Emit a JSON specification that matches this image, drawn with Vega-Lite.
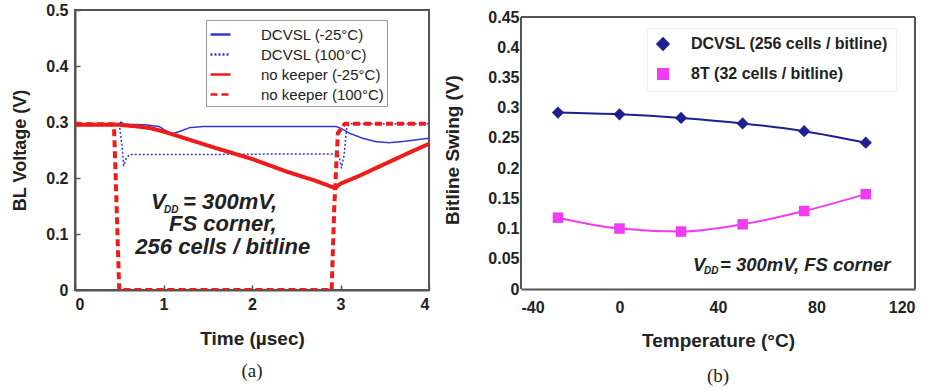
{
  "$schema": "https://vega.github.io/schema/vega-lite/v6.json",
  "background": "white",
  "padding": {"left": 10, "top": 1, "right": 4, "bottom": 4},
  "spacing": 12,
  "resolve": {
    "scale": {"color": "independent", "strokeDash": "independent", "shape": "independent", "size": "independent"},
    "legend": {"color": "independent", "strokeDash": "independent", "shape": "independent", "size": "independent"}
  },
  "config": {
    "font": "Liberation Sans",
    "view": {"stroke": "#555", "strokeWidth": 2},
    "axis": {
      "grid": false,
      "labelFont": "Liberation Sans",
      "labelFontWeight": "bold",
      "labelFontSize": 16,
      "labelColor": "#222",
      "titleFont": "Liberation Sans",
      "titleFontWeight": "bold",
      "titleFontSize": 18,
      "titleColor": "#222",
      "domainColor": "#555",
      "domainWidth": 2,
      "tickColor": "#555",
      "tickWidth": 1.5
    },
    "title": {"font": "Liberation Serif", "fontWeight": "normal", "fontSize": 19, "color": "#222", "orient": "bottom", "anchor": "middle"}
  },
  "hconcat": [
    {
      "width": 354,
      "height": 280,
      "title": {"text": "(a)", "offset": 14},
      "data": {
        "values": [
          {"series": "DCVSL (-25°C)", "i": 1, "t": 0.0, "v": 0.296},
          {"series": "DCVSL (-25°C)", "i": 2, "t": 0.3, "v": 0.296},
          {"series": "DCVSL (-25°C)", "i": 3, "t": 0.5, "v": 0.297},
          {"series": "DCVSL (-25°C)", "i": 4, "t": 0.52, "v": 0.300},
          {"series": "DCVSL (-25°C)", "i": 5, "t": 0.55, "v": 0.296},
          {"series": "DCVSL (-25°C)", "i": 6, "t": 0.8, "v": 0.295},
          {"series": "DCVSL (-25°C)", "i": 7, "t": 0.95, "v": 0.292},
          {"series": "DCVSL (-25°C)", "i": 8, "t": 1.05, "v": 0.282},
          {"series": "DCVSL (-25°C)", "i": 9, "t": 1.1, "v": 0.279},
          {"series": "DCVSL (-25°C)", "i": 10, "t": 1.18, "v": 0.283},
          {"series": "DCVSL (-25°C)", "i": 11, "t": 1.3, "v": 0.29},
          {"series": "DCVSL (-25°C)", "i": 12, "t": 1.45, "v": 0.292},
          {"series": "DCVSL (-25°C)", "i": 13, "t": 2.0, "v": 0.292},
          {"series": "DCVSL (-25°C)", "i": 14, "t": 2.95, "v": 0.292},
          {"series": "DCVSL (-25°C)", "i": 15, "t": 3.0, "v": 0.289},
          {"series": "DCVSL (-25°C)", "i": 16, "t": 3.1, "v": 0.28},
          {"series": "DCVSL (-25°C)", "i": 17, "t": 3.25, "v": 0.271},
          {"series": "DCVSL (-25°C)", "i": 18, "t": 3.4, "v": 0.265},
          {"series": "DCVSL (-25°C)", "i": 19, "t": 3.55, "v": 0.263},
          {"series": "DCVSL (-25°C)", "i": 20, "t": 3.7, "v": 0.265},
          {"series": "DCVSL (-25°C)", "i": 21, "t": 3.85, "v": 0.268},
          {"series": "DCVSL (-25°C)", "i": 22, "t": 4.0, "v": 0.271},

          {"series": "DCVSL (100°C)", "i": 1, "t": 0.0, "v": 0.295},
          {"series": "DCVSL (100°C)", "i": 2, "t": 0.5, "v": 0.296},
          {"series": "DCVSL (100°C)", "i": 3, "t": 0.53, "v": 0.26},
          {"series": "DCVSL (100°C)", "i": 4, "t": 0.55, "v": 0.222},
          {"series": "DCVSL (100°C)", "i": 5, "t": 0.58, "v": 0.236},
          {"series": "DCVSL (100°C)", "i": 6, "t": 0.62, "v": 0.242},
          {"series": "DCVSL (100°C)", "i": 7, "t": 1.5, "v": 0.242},
          {"series": "DCVSL (100°C)", "i": 8, "t": 2.5, "v": 0.243},
          {"series": "DCVSL (100°C)", "i": 9, "t": 2.97, "v": 0.243},
          {"series": "DCVSL (100°C)", "i": 10, "t": 2.99, "v": 0.235},
          {"series": "DCVSL (100°C)", "i": 11, "t": 3.01, "v": 0.218},
          {"series": "DCVSL (100°C)", "i": 12, "t": 3.04, "v": 0.24},
          {"series": "DCVSL (100°C)", "i": 13, "t": 3.07, "v": 0.29},
          {"series": "DCVSL (100°C)", "i": 14, "t": 3.11, "v": 0.297},
          {"series": "DCVSL (100°C)", "i": 15, "t": 4.0, "v": 0.297},

          {"series": "no keeper (-25°C)", "i": 1, "t": 0.0, "v": 0.295},
          {"series": "no keeper (-25°C)", "i": 2, "t": 0.5, "v": 0.295},
          {"series": "no keeper (-25°C)", "i": 3, "t": 0.7, "v": 0.292},
          {"series": "no keeper (-25°C)", "i": 4, "t": 0.85, "v": 0.289},
          {"series": "no keeper (-25°C)", "i": 5, "t": 1.0, "v": 0.283},
          {"series": "no keeper (-25°C)", "i": 6, "t": 1.3, "v": 0.268},
          {"series": "no keeper (-25°C)", "i": 7, "t": 1.6, "v": 0.253},
          {"series": "no keeper (-25°C)", "i": 8, "t": 2.0, "v": 0.234},
          {"series": "no keeper (-25°C)", "i": 9, "t": 2.4, "v": 0.211},
          {"series": "no keeper (-25°C)", "i": 10, "t": 2.7, "v": 0.196},
          {"series": "no keeper (-25°C)", "i": 11, "t": 2.94, "v": 0.182},
          {"series": "no keeper (-25°C)", "i": 12, "t": 3.0, "v": 0.19},
          {"series": "no keeper (-25°C)", "i": 13, "t": 3.2, "v": 0.203},
          {"series": "no keeper (-25°C)", "i": 14, "t": 3.5, "v": 0.225},
          {"series": "no keeper (-25°C)", "i": 15, "t": 3.8, "v": 0.247},
          {"series": "no keeper (-25°C)", "i": 16, "t": 4.0, "v": 0.261},

          {"series": "no keeper (100°C)", "i": 1, "t": 0.0, "v": 0.296},
          {"series": "no keeper (100°C)", "i": 2, "t": 0.44, "v": 0.296},
          {"series": "no keeper (100°C)", "i": 3, "t": 0.46, "v": 0.2},
          {"series": "no keeper (100°C)", "i": 4, "t": 0.5, "v": 0.0},
          {"series": "no keeper (100°C)", "i": 5, "t": 2.9, "v": 0.0},
          {"series": "no keeper (100°C)", "i": 6, "t": 2.93, "v": 0.15},
          {"series": "no keeper (100°C)", "i": 7, "t": 2.97, "v": 0.28},
          {"series": "no keeper (100°C)", "i": 8, "t": 3.05, "v": 0.297},
          {"series": "no keeper (100°C)", "i": 9, "t": 4.0, "v": 0.297}
        ]
      },
      "encoding": {
        "x": {
          "field": "t", "type": "quantitative",
          "scale": {"domain": [0, 4], "nice": false},
          "axis": {"values": [0, 1, 2, 3, 4], "title": "Time (µsec)", "tickSize": -5, "labelPadding": 11, "titlePadding": 17, "titleFontSize": 19}
        },
        "y": {
          "field": "v", "type": "quantitative",
          "scale": {"domain": [0, 0.5], "nice": false},
          "axis": {"values": [0, 0.1, 0.2, 0.3, 0.4, 0.5], "labelExpr": "'' + datum.value", "title": "BL Voltage (V)", "tickSize": -5, "labelPadding": 12, "titlePadding": 16}
        }
      },
      "layer": [
        {
          "transform": [{"filter": "indexof(datum.series, 'DCVSL') === 0"}],
          "mark": {"type": "line", "strokeJoin": "round", "strokeWidth": 1.5, "clip": true},
          "encoding": {
            "order": {"field": "i", "type": "quantitative"},
            "color": {
              "field": "series", "type": "nominal",
              "scale": {
                "domain": ["DCVSL (-25°C)", "DCVSL (100°C)", "no keeper (-25°C)", "no keeper (100°C)"],
                "range": ["#3535d6", "#3535d6", "#ee1b1b", "#ee1b1b"]
              },
              "legend": {
                "orient": "none", "legendX": 131, "legendY": 10,
                "title": null,
                "symbolType": "stroke",
                "symbolSize": 400,
                "symbolStrokeWidth": 2.5,
                "labelFont": "Liberation Sans",
                "labelFontSize": 15,
                "labelFontWeight": "normal",
                "labelColor": "#222",
                "labelOffset": 29,
                "fillColor": "white",
                "strokeColor": "#999",
                "padding": 3,
                "rowPadding": -1
              }
            },
            "strokeDash": {
              "field": "series", "type": "nominal",
              "scale": {
                "domain": ["DCVSL (-25°C)", "DCVSL (100°C)", "no keeper (-25°C)", "no keeper (100°C)"],
                "range": [[1, 0], [2, 2], [1, 0], [7, 4]]
              }
            }
          }
        },
        {
          "transform": [{"filter": "indexof(datum.series, 'no keeper') === 0"}],
          "mark": {"type": "line", "strokeJoin": "round", "strokeWidth": 4, "clip": true},
          "encoding": {
            "order": {"field": "i", "type": "quantitative"},
            "color": {
              "field": "series", "type": "nominal",
              "scale": {
                "domain": ["DCVSL (-25°C)", "DCVSL (100°C)", "no keeper (-25°C)", "no keeper (100°C)"],
                "range": ["#3535d6", "#3535d6", "#ee1b1b", "#ee1b1b"]
              }
            },
            "strokeDash": {
              "field": "series", "type": "nominal",
              "scale": {
                "domain": ["DCVSL (-25°C)", "DCVSL (100°C)", "no keeper (-25°C)", "no keeper (100°C)"],
                "range": [[1, 0], [2, 2], [1, 0], [7, 4]]
              }
            }
          }
        },
        {
          "transform": [{"filter": "datum.series === 'DCVSL (-25°C)' && datum.i === 1"}],
          "mark": {"type": "text", "text": "V", "align": "left", "baseline": "alphabetic", "font": "Liberation Sans", "fontSize": 22, "fontWeight": "bold", "fontStyle": "italic", "color": "#222"},
          "encoding": {"x": {"datum": 0.86}, "y": {"datum": 0.1446}}
        },
        {
          "transform": [{"filter": "datum.series === 'DCVSL (-25°C)' && datum.i === 1"}],
          "mark": {"type": "text", "text": "DD", "align": "left", "baseline": "alphabetic", "dx": 13, "dy": 4, "font": "Liberation Sans", "fontSize": 10, "fontWeight": "bold", "fontStyle": "italic", "color": "#222"},
          "encoding": {"x": {"datum": 0.86}, "y": {"datum": 0.1446}}
        },
        {
          "transform": [{"filter": "datum.series === 'DCVSL (-25°C)' && datum.i === 1"}],
          "mark": {"type": "text", "text": "= 300mV,", "align": "left", "baseline": "alphabetic", "dx": 32, "font": "Liberation Sans", "fontSize": 22, "fontWeight": "bold", "fontStyle": "italic", "color": "#222"},
          "encoding": {"x": {"datum": 0.86}, "y": {"datum": 0.1446}}
        },
        {
          "transform": [{"filter": "datum.series === 'DCVSL (-25°C)' && datum.i === 1"}],
          "mark": {"type": "text", "text": "FS corner,", "align": "center", "baseline": "alphabetic", "font": "Liberation Sans", "fontSize": 22, "fontWeight": "bold", "fontStyle": "italic", "color": "#222"},
          "encoding": {"x": {"datum": 1.67}, "y": {"datum": 0.1054}}
        },
        {
          "transform": [{"filter": "datum.series === 'DCVSL (-25°C)' && datum.i === 1"}],
          "mark": {"type": "text", "text": "256 cells / bitline", "align": "center", "baseline": "alphabetic", "font": "Liberation Sans", "fontSize": 22, "fontWeight": "bold", "fontStyle": "italic", "color": "#222"},
          "encoding": {"x": {"datum": 1.67}, "y": {"datum": 0.0643}}
        }
      ]
    },
    {
      "width": 394,
      "height": 279,
      "view": {"stroke": null},
      "title": {"text": "(b)", "offset": 17},
      "data": {
        "values": [
          {"line": "DCVSL (256 cells / bitline)", "T": -25, "v": 0.292},
          {"line": "DCVSL (256 cells / bitline)", "T": 0, "v": 0.289},
          {"line": "DCVSL (256 cells / bitline)", "T": 25, "v": 0.283},
          {"line": "DCVSL (256 cells / bitline)", "T": 50, "v": 0.274},
          {"line": "DCVSL (256 cells / bitline)", "T": 75, "v": 0.261},
          {"line": "DCVSL (256 cells / bitline)", "T": 100, "v": 0.242},
          {"line": "8T (32 cells / bitline)", "T": -25, "v": 0.118},
          {"line": "8T (32 cells / bitline)", "T": 0, "v": 0.1},
          {"line": "8T (32 cells / bitline)", "T": 25, "v": 0.095},
          {"line": "8T (32 cells / bitline)", "T": 50, "v": 0.107},
          {"line": "8T (32 cells / bitline)", "T": 75, "v": 0.129},
          {"line": "8T (32 cells / bitline)", "T": 100, "v": 0.157}
        ]
      },
      "encoding": {
        "x": {
          "field": "T", "type": "quantitative",
          "scale": {"domain": [-40, 120], "nice": false},
          "axis": {"values": [-40, 0, 40, 80, 120], "labelExpr": "'' + datum.value", "title": "Temperature (°C)", "ticks": false, "tickSize": 0, "labelPadding": 10, "titlePadding": 16, "titleFontSize": 19}
        },
        "y": {
          "field": "v", "type": "quantitative",
          "scale": {"domain": [0, 0.4616], "nice": false},
          "axis": {"values": [0, 0.05, 0.1, 0.15, 0.2, 0.25, 0.3, 0.35, 0.4, 0.45], "labelExpr": "'' + datum.value", "title": "Bitline Swing (V)", "ticks": false, "tickSize": 0, "domain": false, "labelPadding": 2, "titlePadding": 25, "titleFontSize": 19}
        }
      },
      "layer": [
        {
          "transform": [{"filter": "datum.line === '8T (32 cells / bitline)' && datum.T === -25"}],
          "mark": {"type": "rule", "color": "#555", "strokeWidth": 2},
          "encoding": {"x": {"datum": -40}, "x2": {"datum": 120}, "y": {"datum": 0.45}}
        },
        {
          "transform": [{"filter": "datum.line === '8T (32 cells / bitline)' && datum.T === -25"}],
          "mark": {"type": "rule", "color": "#555", "strokeWidth": 2},
          "encoding": {"x": {"datum": -40}, "y": {"datum": 0}, "y2": {"datum": 0.45}}
        },
        {
          "transform": [{"filter": "datum.line === '8T (32 cells / bitline)' && datum.T === -25"}],
          "mark": {"type": "rule", "color": "#555", "strokeWidth": 2},
          "encoding": {"x": {"datum": 120}, "y": {"datum": 0}, "y2": {"datum": 0.45}}
        },
        {
          "mark": {"type": "line", "interpolate": "monotone", "strokeWidth": 2},
          "encoding": {
            "color": {
              "field": "line", "type": "nominal",
              "scale": {"domain": ["DCVSL (256 cells / bitline)", "8T (32 cells / bitline)"], "range": ["#1f1f8f", "#f03cf0"]}
            }
          }
        },
        {
          "mark": {"type": "point", "filled": true, "opacity": 1},
          "encoding": {
            "color": {
              "field": "line", "type": "nominal",
              "scale": {"domain": ["DCVSL (256 cells / bitline)", "8T (32 cells / bitline)"], "range": ["#1f1f8f", "#f03cf0"]},
              "legend": {
                "orient": "none", "legendX": 126, "legendY": 18,
                "title": null,
                "symbolSize": 110,
                "symbolOpacity": 1,
                "labelFont": "Liberation Sans",
                "labelFontSize": 16,
                "labelFontWeight": "bold",
                "labelColor": "#222",
                "labelLimit": 320,
                "labelOffset": 20,
                "fillColor": "white",
                "strokeColor": "#f0f0f0",
                "padding": 8,
                "rowPadding": 11
              }
            },
            "shape": {
              "field": "line", "type": "nominal",
              "scale": {"domain": ["DCVSL (256 cells / bitline)", "8T (32 cells / bitline)"], "range": ["diamond", "square"]}
            },
            "size": {
              "field": "line", "type": "nominal",
              "scale": {"domain": ["DCVSL (256 cells / bitline)", "8T (32 cells / bitline)"], "range": [150, 110]},
              "legend": null
            }
          }
        },
        {
          "transform": [{"filter": "datum.line === '8T (32 cells / bitline)' && datum.T === -25"}],
          "mark": {"type": "text", "text": "V", "align": "left", "baseline": "alphabetic", "font": "Liberation Sans", "fontSize": 18.5, "fontWeight": "bold", "fontStyle": "italic", "color": "#222"},
          "encoding": {"x": {"datum": 29.85}, "y": {"datum": 0.0298}}
        },
        {
          "transform": [{"filter": "datum.line === '8T (32 cells / bitline)' && datum.T === -25"}],
          "mark": {"type": "text", "text": "DD", "align": "left", "baseline": "alphabetic", "dx": 11, "dy": 3, "font": "Liberation Sans", "fontSize": 10, "fontWeight": "bold", "fontStyle": "italic", "color": "#222"},
          "encoding": {"x": {"datum": 29.85}, "y": {"datum": 0.0298}}
        },
        {
          "transform": [{"filter": "datum.line === '8T (32 cells / bitline)' && datum.T === -25"}],
          "mark": {"type": "text", "text": "= 300mV, FS corner", "align": "left", "baseline": "alphabetic", "dx": 27, "font": "Liberation Sans", "fontSize": 18.5, "fontWeight": "bold", "fontStyle": "italic", "color": "#222"},
          "encoding": {"x": {"datum": 29.85}, "y": {"datum": 0.0298}}
        }
      ]
    }
  ]
}
